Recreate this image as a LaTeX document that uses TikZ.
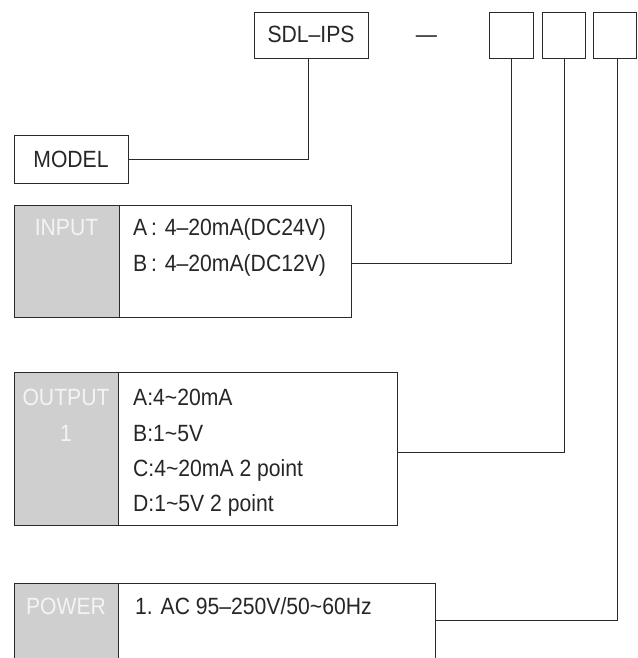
\documentclass[tikz,border=0pt]{standalone}
\usepackage{fontspec}
\setmainfont[FakeStretch=0.9]{Liberation Sans}
\definecolor{panel}{HTML}{CFCFCF}
\definecolor{edge}{HTML}{2A2A2A}
\definecolor{labtext}{HTML}{F4F4F4}
\begin{document}
\begin{tikzpicture}[x=1pt,y=-1pt,
  box/.style={draw=edge, line width=1pt, inner sep=0pt, anchor=north west},
  graycol/.style={box, fill=panel},
  txt/.style={inner sep=0pt, anchor=base west, font=\fontsize{23.5}{28}\selectfont, text=black!85},
  labtxt/.style={inner sep=0pt, anchor=base, font=\fontsize{23.5}{28}\selectfont, text=labtext},
  conn/.style={draw=edge, line width=1pt}]
\useasboundingbox (0,0) rectangle (637,658);
\clip (0,0) rectangle (637,658);
% top row
\node[box, minimum width=114pt, minimum height=46pt] (sdl) at (254,12) {};
\node[txt, anchor=base] (sdltxt) at (311,43) {SDL–IPS};
\node[txt, anchor=base] (dash) at (426.5,43) {—};
\node[box, minimum width=44pt, minimum height=46pt] (b1) at (489,12) {};
\node[box, minimum width=43pt, minimum height=46pt] (b2) at (542,12) {};
\node[box, minimum width=43pt, minimum height=46pt] (b3) at (593,12) {};
% model
\node[box, minimum width=114pt, minimum height=48pt] (model) at (14,135) {};
\node[txt, anchor=base] (modeltxt) at (71,167) {MODEL};
% input
\node[box, minimum width=337pt, minimum height=112pt] (inbox) at (14,205) {};
\node[graycol, minimum width=105pt, minimum height=112pt] (inlab) at (14,205) {};
\node[labtxt] (inlabtxt) at (66.5,235) {INPUT};
\node[txt] (ina) at (133,235) {A\,:\,\,4–20mA(DC24V)};
\node[txt] (inb) at (133,271) {B\,:\,\,4–20mA(DC12V)};
% output
\node[box, minimum width=383pt, minimum height=153pt] (outbox) at (14,372) {};
\node[graycol, minimum width=104pt, minimum height=153pt] (outlab) at (14,372) {};
\node[labtxt] (outlabtxt) at (66,405) {OUTPUT};
\node[labtxt] (outlabnum) at (66,441) {1};
\node[txt] (outa) at (133,405) {A:4\textasciitilde20mA};
\node[txt] (outb) at (133,441) {B:1\textasciitilde5V};
\node[txt] (outc) at (133,476) {C:4\textasciitilde20mA 2 point};
\node[txt] (outd) at (133,511) {D:1\textasciitilde5V 2 point};
% power
\node[box, minimum width=421pt, minimum height=100pt] (pwbox) at (14,583) {};
\node[graycol, minimum width=104pt, minimum height=100pt] (pwlab) at (14,583) {};
\node[labtxt] (pwlabtxt) at (66,614) {POWER};
\node[txt] (pwa) at (135,614) {1. AC 95–250V/50\textasciitilde60Hz};
% connectors
\draw[conn] (model.east) -| ([xshift=-3pt]sdl.south);
\draw[conn] ([yshift=-2pt]inbox.east) -| (b1.south);
\draw[conn] ([yshift=-3.5pt]outbox.east) -| (b2.south);
\draw[conn] ([yshift=-37pt]pwbox.north east) -| ([xshift=2.5pt]b3.south);
\end{tikzpicture}
\end{document}
